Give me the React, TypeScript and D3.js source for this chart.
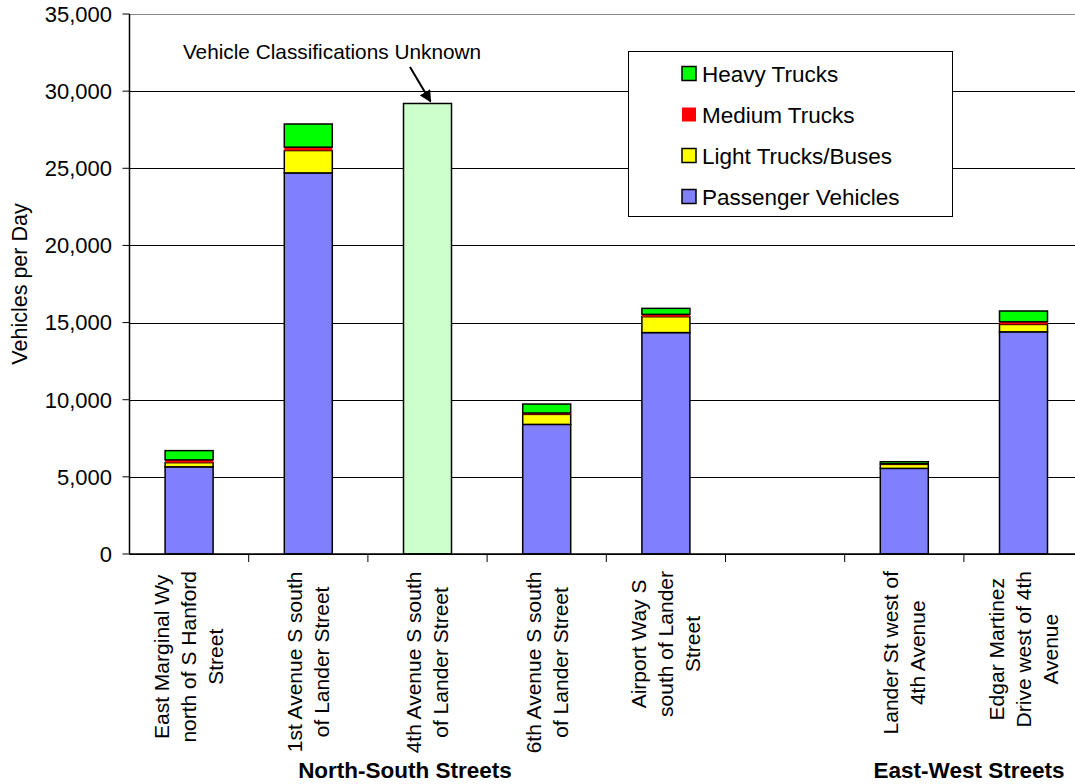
import React, { useMemo } from "react";
import * as d3 from "d3";

const categories: string[][] = [
  ["East Marginal Wy", "north of S Hanford", "Street"],
  ["1st Avenue S south", "of Lander Street"],
  ["4th Avenue S south", "of Lander Street"],
  ["6th Avenue S south", "of Lander Street"],
  ["Airport Way S", "south of Lander", "Street"],
  [],
  ["Lander St west of", "4th Avenue"],
  ["Edgar Martinez", "Drive west of 4th", "Avenue"],
];
const passenger = [5650, 24700, 0, 8400, 14350, 0, 5550, 14400];
const lightTrucks = [270, 1450, 0, 650, 1030, 0, 260, 480];
const mediumTrucks = [180, 220, 0, 90, 150, 0, 40, 170];
const heavyTrucks = [600, 1500, 0, 580, 390, 0, 130, 700];
const unknownClass = [0, 0, 29200, 0, 0, 0, 0, 0];
const yTicks = [0, 5000, 10000, 15000, 20000, 25000, 30000, 35000];
const groupLabels = [
  { text: "North-South Streets", from: 0, to: 4 },
  { text: "East-West Streets", from: 6, to: 7 },
];

const keys = ["passenger", "light", "medium", "heavy", "unknown"];
const colors: Record<string, string> = {
  passenger: "#8080FF",
  light: "#FFFF00",
  medium: "#FF0000",
  heavy: "#00FF00",
  unknown: "#CCFFCC",
};
const legendItems = [
  { key: "heavy", label: "Heavy Trucks" },
  { key: "medium", label: "Medium Trucks" },
  { key: "light", label: "Light Trucks/Buses" },
  { key: "passenger", label: "Passenger Vehicles" },
];

const W = 1075;
const H = 784;
const FONT = "Arial, 'Liberation Sans', Helvetica, sans-serif";

export default function App() {
  const x0 = 129.5;
  const slot = 119.2;
  const x = d3
    .scaleBand<number>()
    .domain(categories.map((_, i) => i))
    .range([x0, x0 + slot * categories.length])
    .paddingInner(0)
    .paddingOuter(0);
  const y = d3.scaleLinear().domain([0, 35000]).range([554, 14]);
  const barW = 48;

  const table = categories.map((_, i) => ({
    passenger: passenger[i],
    light: lightTrucks[i],
    medium: mediumTrucks[i],
    heavy: heavyTrucks[i],
    unknown: unknownClass[i],
  }));
  const series = d3.stack<any>().keys(keys)(table);

  const measure = useMemo(() => {
    const c = document.createElement("canvas").getContext("2d")!;
    c.font = `21px ${FONT}`;
    return (s: string) => c.measureText(s).width;
  }, []);

  const fmt = d3.format(",");
  const lineH = 27;

  return (
    <svg
      width={W}
      height={H}
      style={{ position: "absolute", left: 0, top: 0, background: "#fff" }}
      fontFamily={FONT}
    >
      {/* gridlines */}
      {yTicks.map((t) => (
        <line
          key={"g" + t}
          x1={x0}
          x2={W}
          y1={Math.round(y(t)) + 0.5}
          y2={Math.round(y(t)) + 0.5}
          stroke={t === 35000 ? "#888" : "#000"}
          strokeWidth={1}
        />
      ))}
      {/* bars */}
      {series.map((s) =>
        s.map((d, i) => {
          const h = y(d[0]) - y(d[1]);
          if (h <= 0) return null;
          const k = s.key as string;
          const cx = (x(i) as number) + x.bandwidth() / 2;
          return (
            <rect
              key={k + i}
              x={cx - barW / 2}
              y={y(d[1])}
              width={barW}
              height={h}
              fill={colors[k]}
              stroke={k === "medium" ? "none" : "#000"}
              strokeWidth={1.5}
            />
          );
        })
      )}
      {/* y axis */}
      <line x1={x0} x2={x0} y1={y(35000)} y2={y(0)} stroke="#000" strokeWidth={1.5} />
      {yTicks.map((t) => (
        <g key={"t" + t}>
          <line x1={x0 - 7} x2={x0} y1={y(t)} y2={y(t)} stroke="#000" strokeWidth={1} />
          <text x={112} y={y(t)} dy="0.36em" textAnchor="end" fontSize={22} fill="#000">
            {fmt(t)}
          </text>
        </g>
      ))}
      <text
        transform={`translate(27,${(y(0) + y(35000)) / 2}) rotate(-90)`}
        textAnchor="middle"
        fontSize={21.5}
        fill="#000"
      >
        Vehicles per Day
      </text>
      {/* x axis */}
      <line x1={x0} x2={W} y1={y(0)} y2={y(0)} stroke="#000" strokeWidth={1.5} />
      {categories.map((_, i) => (
        <line
          key={"xt" + i}
          x1={(x(i) as number) + x.bandwidth()}
          x2={(x(i) as number) + x.bandwidth()}
          y1={y(0)}
          y2={y(0) + 8}
          stroke="#000"
          strokeWidth={1}
        />
      ))}
      {categories.map((lines, i) => {
        if (!lines.length) return null;
        const cx = (x(i) as number) + x.bandwidth() / 2;
        const maxW = Math.max(...lines.map(measure));
        const cy = 571 + maxW / 2;
        return lines.map((ln, k) => {
          const lx = cx + (k - (lines.length - 1) / 2) * lineH;
          return (
            <text
              key={"xl" + i + k}
              transform={`translate(${lx},${cy}) rotate(-90)`}
              textAnchor="middle"
              dy="0.35em"
              fontSize={21}
              fill="#000"
            >
              {ln}
            </text>
          );
        });
      })}
      {groupLabels.map((g) => {
        const cx = g.from === 0 ? 405 : 969;
        return (
          <text
            key={g.text}
            x={cx}
            y={778}
            textAnchor="middle"
            fontSize={22.5}
            fontWeight="bold"
            fill="#000"
          >
            {g.text}
          </text>
        );
      })}
      {/* annotation */}
      <defs>
        <marker id="arr" viewBox="0 0 10 10" refX="9" refY="5" markerWidth="6" markerHeight="6" orient="auto">
          <path d="M0,0 L10,5 L0,10 z" fill="#000" />
        </marker>
      </defs>
      <text x={332} y={59} textAnchor="middle" fontSize={20.8} fill="#000">
        Vehicle Classifications Unknown
      </text>
      <line
        x1={410}
        y1={67}
        x2={(x(2) as number) + x.bandwidth() / 2 + 3}
        y2={y(unknownClass[2]) - 2}
        stroke="#000"
        strokeWidth={2}
        markerEnd="url(#arr)"
      />
      {/* legend */}
      <rect x={628.5} y={51.5} width={324} height={165} fill="#fff" stroke="#000" strokeWidth={1} />
      {legendItems.map((it, i) => {
        const cy = 73.5 + i * 41;
        return (
          <g key={it.key}>
            <rect
              x={682}
              y={cy - 7}
              width={14}
              height={14}
              fill={colors[it.key]}
              stroke={it.key === "medium" ? "none" : "#000"}
              strokeWidth={1.5}
            />
            <text x={702} y={cy} dy="0.36em" fontSize={22.5} fill="#000">
              {it.label}
            </text>
          </g>
        );
      })}
    </svg>
  );
}
